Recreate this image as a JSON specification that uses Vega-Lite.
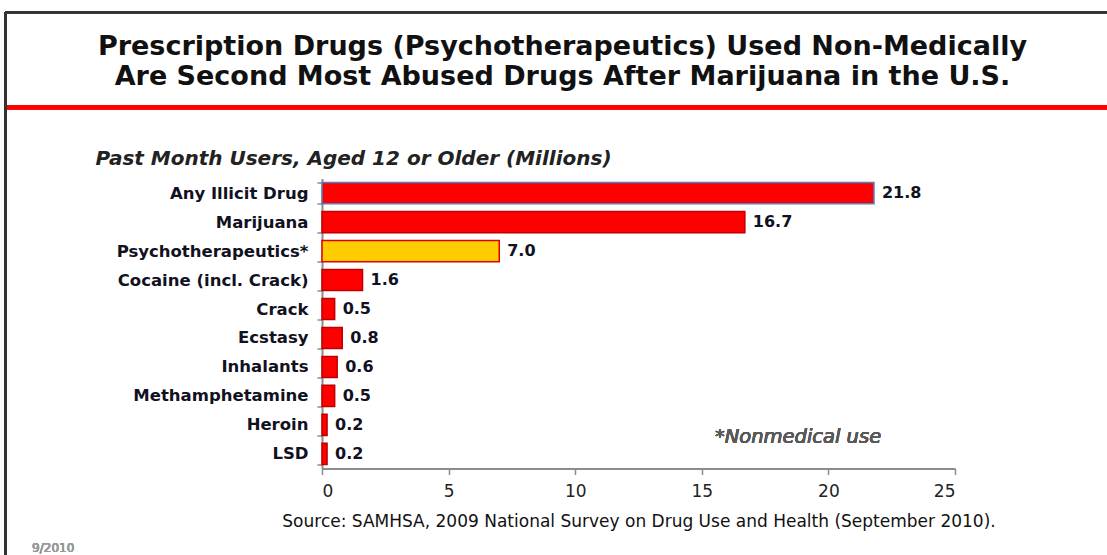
{
  "$schema": "https://vega.github.io/schema/vega-lite/v6.json",
  "width": 633,
  "height": 290,
  "autosize": {"type": "none"},
  "padding": {"left": 322, "top": 178.5, "right": 152, "bottom": 86},
  "background": "white",
  "title": {
    "text": ["Prescription Drugs (Psychotherapeutics) Used Non-Medically", "Are Second Most Abused Drugs After Marijuana in the U.S."],
    "anchor": "middle",
    "frame": "group",
    "dx": -76,
    "offset": -80,
    "font": "DejaVu Sans",
    "fontWeight": "bold",
    "fontSize": 27,
    "lineHeight": 30,
    "color": "#111111"
  },
  "config": {"view": {"stroke": null}},
  "data": {
    "values": [
      {"drug": "Any Illicit Drug", "users": 21.8, "kind": "total"},
      {"drug": "Marijuana", "users": 16.7, "kind": "drug"},
      {"drug": "Psychotherapeutics*", "users": 7.0, "kind": "psycho"},
      {"drug": "Cocaine (incl. Crack)", "users": 1.6, "kind": "drug"},
      {"drug": "Crack", "users": 0.5, "kind": "drug"},
      {"drug": "Ecstasy", "users": 0.8, "kind": "drug"},
      {"drug": "Inhalants", "users": 0.6, "kind": "drug"},
      {"drug": "Methamphetamine", "users": 0.5, "kind": "drug"},
      {"drug": "Heroin", "users": 0.2, "kind": "drug"},
      {"drug": "LSD", "users": 0.2, "kind": "drug"}
    ]
  },
  "layer": [
    {
      "mark": {"type": "bar", "strokeWidth": 1.5},
      "encoding": {
        "y": {
          "field": "drug", "type": "nominal", "sort": null,
          "scale": {"paddingInner": 0.27, "paddingOuter": 0.14},
          "axis": {
            "title": "Past Month Users, Aged 12 or Older (Millions)",
            "titleAngle": 0, "titleAlign": "left", "titleBaseline": "alphabetic",
            "titleX": -227, "titleY": -14,
            "titleFont": "DejaVu Sans", "titleFontSize": 20, "titleFontStyle": "italic", "titleFontWeight": "bold",
            "titleColor": "#222222",
            "labelFont": "DejaVu Sans", "labelFontSize": 16.5, "labelFontWeight": "bold", "labelColor": "#111122",
            "labelLimit": 400,
            "labelPadding": 9, "tickSize": 5, "tickBand": "extent",
            "tickColor": "#8c8c8c", "domainColor": "#8c8c8c", "domainWidth": 2, "tickWidth": 1.5
          }
        },
        "x": {
          "field": "users", "type": "quantitative",
          "scale": {"domain": [0, 25], "nice": false},
          "axis": {
            "values": [0, 5, 10, 15, 20, 25], "grid": false,
            "title": "Source:  SAMHSA, 2009 National Survey on Drug Use and Health (September 2010).",
            "titleFont": "DejaVu Sans", "titleFontSize": 17, "titleFontWeight": "normal", "titleColor": "#111111",
            "titlePadding": 14,
            "labelFont": "DejaVu Sans", "labelFontSize": 17, "labelColor": "#222222", "labelPadding": 9,
            "tickSize": 6, "tickColor": "#8c8c8c", "domainColor": "#8c8c8c", "domainWidth": 2, "tickWidth": 1.5
          }
        },
        "fill": {
          "field": "kind", "type": "nominal",
          "scale": {"domain": ["total", "drug", "psycho"], "range": ["#ff0000", "#ff0000", "#ffcc00"]},
          "legend": null
        },
        "stroke": {
          "field": "kind", "type": "nominal",
          "scale": {"domain": ["total", "drug", "psycho"], "range": ["#4f81bd", "#c00000", "#e00000"]},
          "legend": null
        }
      }
    },
    {
      "mark": {"type": "text", "align": "left", "dx": 8, "font": "DejaVu Sans", "fontWeight": "bold", "fontSize": 16, "color": "#111122"},
      "encoding": {
        "y": {"field": "drug", "type": "nominal", "sort": null},
        "x": {"field": "users", "type": "quantitative"},
        "text": {"field": "users", "type": "quantitative", "format": ".1f"}
      }
    },
    {
      "mark": {"type": "text", "align": "center", "dy": 12, "font": "DejaVu Sans", "fontStyle": "italic", "fontSize": 19.5, "color": "#595959"},
      "encoding": {
        "x": {"datum": 18.8},
        "y": {"datum": "Heroin"},
        "text": {"value": "*Nonmedical use"}
      }
    },
    {
      "mark": {"type": "text", "align": "left", "dy": 94, "font": "DejaVu Sans", "fontSize": 12, "color": "#999999"},
      "encoding": {
        "x": {"datum": -11.45},
        "y": {"datum": "LSD"},
        "text": {"value": "9/2010"}
      }
    },
    {
      "mark": {"type": "rule", "color": "#ff0000", "strokeWidth": 4, "yOffset": -86},
      "encoding": {
        "x": {"datum": -12.5},
        "x2": {"datum": 31},
        "y": {"datum": "Any Illicit Drug"}
      }
    },
    {
      "mark": {"type": "rule", "color": "#333333", "strokeWidth": 2, "yOffset": -181},
      "encoding": {
        "x": {"datum": -12.5},
        "x2": {"datum": 31},
        "y": {"datum": "Any Illicit Drug"}
      }
    },
    {
      "mark": {"type": "rule", "color": "#333333", "strokeWidth": 2, "yOffset": -181, "y2Offset": 110},
      "encoding": {
        "x": {"datum": -12.5},
        "y": {"datum": "Any Illicit Drug"},
        "y2": {"datum": "LSD"}
      }
    }
  ]
}
